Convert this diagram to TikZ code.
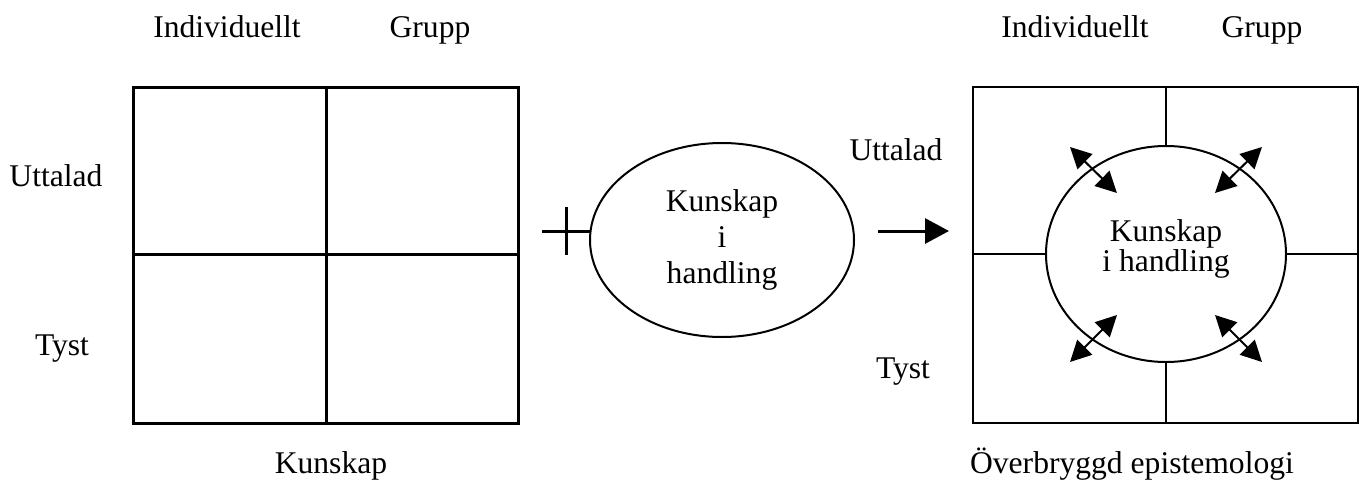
\documentclass[tikz,border=0pt]{standalone}
\usepackage{fontspec}
\setmainfont{Liberation Serif}
\usetikzlibrary{shapes.geometric,arrows.meta}
\begin{document}
\begin{tikzpicture}[x=0.5pt,y=-0.5pt,
	lbl/.style={anchor=base,font=\fontsize{15.8}{18}\selectfont,inner sep=0pt},
	oval/.style={draw,ellipse,line width=1pt,outer sep=0pt,inner sep=0pt},
	dbl/.style={{Triangle[length=10.5pt,width=10.5pt]}-{Triangle[length=10.5pt,width=10.5pt]},line width=1pt}]
	\useasboundingbox (0,0) rectangle (1365,482);
	% vanlig kunskap
	\draw[line width=1.5pt] (133,87) rectangle (518,423);
	\draw[line width=1.5pt] (326,87) -- (326,423);
	\draw[line width=1.5pt] (133,254) -- (518,254);
	\node[lbl] (ind1) at (227,37) {Individuellt};
	\node[lbl] (gr1) at (430,37) {Grupp};
	\node[lbl] (utt1) at (56,186) {Uttalad};
	\node[lbl] (ty1) at (62,355) {Tyst};
	\node[lbl] (ku1) at (331,473) {Kunskap};
	% plus och handling
	\draw[line width=1.5pt] (542,231) -- (590,231);
	\draw[line width=1.5pt] (566,207) -- (566,255);
	\node[oval,minimum width=132pt,minimum height=97pt,align=center,
		font=\fontsize{15.8}{18}\selectfont] (kih) at (722,240) {Kunskap\\i\\handling};
	\coordinate (p1) at (878,231);
	\coordinate (p2) at (949,231);
	\draw[line width=1.5pt,-{Triangle[length=12pt,width=12.5pt]}] (p1) -- (p2);
	% overbryggd
	\draw[line width=1.2pt] (973,87) rectangle (1358,423);
	\node[oval,minimum width=120pt,minimum height=108pt] (kihb) at (1166,254) {};
	\node[lbl,anchor=center,align=center,font=\fontsize{15.8}{15}\selectfont] (kihbt) at (1166,249) {Kunskap\\i handling};
	\draw[line width=1pt] (1166,87) -- (kihb.north);
	\draw[line width=1pt] (kihb.south) -- (1166,423);
	\draw[line width=1pt] (973,254) -- (kihb.west);
	\draw[line width=1pt] (kihb.east) -- (1358,254);
	\coordinate (a1) at (1070,147);
	\coordinate (b1) at (1117,193);
	\coordinate (a2) at (1262,147);
	\coordinate (b2) at (1215,193);
	\coordinate (a3) at (1070,362);
	\coordinate (b3) at (1117,315);
	\coordinate (a4) at (1262,362);
	\coordinate (b4) at (1215,315);
	\draw[dbl] (a1) -- (b1);
	\draw[dbl] (a2) -- (b2);
	\draw[dbl] (a3) -- (b3);
	\draw[dbl] (a4) -- (b4);
	\node[lbl] (ind2) at (1075,37) {Individuellt};
	\node[lbl] (gr2) at (1262,37) {Grupp};
	\node[lbl] (utt2) at (896,160) {Uttalad};
	\node[lbl] (ty2) at (903,378) {Tyst};
	\node[lbl] (ob) at (1132,473) {Överbryggd epistemologi};
\end{tikzpicture}
\end{document}
